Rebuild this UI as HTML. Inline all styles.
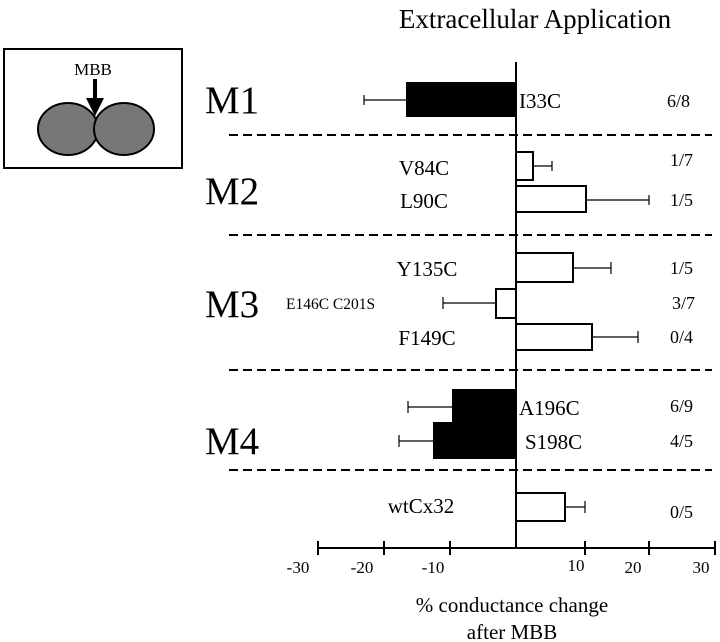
<!DOCTYPE html>
<html><head><meta charset="utf-8"><style>
html,body{margin:0;padding:0;background:#fff;}
svg{display:block;font-family:"Liberation Serif",serif;}
</style></head><body>
<svg width="720" height="642" viewBox="0 0 720 642" xmlns="http://www.w3.org/2000/svg">
<text x="535" y="28" font-size="27" text-anchor="middle">Extracellular Application</text>
<rect x="4" y="49" width="178" height="119" fill="#fff" stroke="#000" stroke-width="2"/>
<ellipse cx="68" cy="129" rx="30" ry="26" fill="#777" stroke="#000" stroke-width="2"/>
<ellipse cx="124" cy="129" rx="30" ry="26" fill="#777" stroke="#000" stroke-width="2"/>
<text x="93" y="75" font-size="17" text-anchor="middle">MBB</text>
<line x1="95" y1="79" x2="95" y2="100" stroke="#000" stroke-width="4"/>
<polygon points="86,98 104,98 95,116" fill="#000"/>
<g font-size="39">
<text x="205" y="113">M1</text>
<text x="205" y="204">M2</text>
<text x="205" y="317">M3</text>
<text x="205" y="454">M4</text>
</g>
<g stroke="#000" stroke-width="2" stroke-dasharray="9,5">
<line x1="229" y1="135" x2="712" y2="135"/>
<line x1="229" y1="235" x2="712" y2="235"/>
<line x1="229" y1="370" x2="712" y2="370"/>
<line x1="229" y1="470" x2="712" y2="470"/>
</g>
<g stroke="#000" stroke-width="1.2">
<line x1="364" y1="100" x2="407" y2="100"/><line x1="364" y1="95" x2="364" y2="105"/>
<line x1="533" y1="166" x2="552" y2="166"/><line x1="552" y1="161" x2="552" y2="171"/>
<line x1="586" y1="200" x2="649" y2="200"/><line x1="649" y1="195" x2="649" y2="205"/>
<line x1="573" y1="268" x2="611" y2="268"/><line x1="611" y1="262" x2="611" y2="274"/>
<line x1="443" y1="303" x2="496" y2="303"/><line x1="443" y1="297" x2="443" y2="309"/>
<line x1="592" y1="337" x2="638" y2="337"/><line x1="638" y1="331" x2="638" y2="343"/>
<line x1="408" y1="407" x2="453" y2="407"/><line x1="408" y1="401" x2="408" y2="413"/>
<line x1="399" y1="441" x2="434" y2="441"/><line x1="399" y1="435" x2="399" y2="447"/>
<line x1="565" y1="507" x2="585" y2="507"/><line x1="585" y1="501" x2="585" y2="513"/>
</g>
<g stroke="#000" stroke-width="2">
<rect x="407" y="83" width="109" height="33" fill="#000"/>
<rect x="516" y="152" width="17" height="28" fill="#fff"/>
<rect x="516" y="186" width="70" height="26" fill="#fff"/>
<rect x="516" y="253" width="57" height="29" fill="#fff"/>
<rect x="496" y="289" width="20" height="29" fill="#fff"/>
<rect x="516" y="324" width="76" height="26" fill="#fff"/>
<rect x="453" y="390" width="63" height="33" fill="#000"/>
<rect x="434" y="423" width="82" height="35" fill="#000"/>
<rect x="516" y="493" width="49" height="28" fill="#fff"/>
</g>
<line x1="516" y1="62" x2="516" y2="549" stroke="#000" stroke-width="2"/>
<g font-size="21">
<text x="519" y="108">I33C</text>
<text x="424" y="175" text-anchor="middle">V84C</text>
<text x="424" y="208" text-anchor="middle">L90C</text>
<text x="427" y="276" text-anchor="middle">Y135C</text>
<text x="427" y="345" text-anchor="middle">F149C</text>
<text x="519" y="415">A196C</text>
<text x="525" y="449">S198C</text>
<text x="421" y="513" text-anchor="middle">wtCx32</text>
</g>
<text x="286" y="309" font-size="15.5">E146C C201S</text>
<g font-size="18">
<text x="667" y="107">6/8</text>
<text x="670" y="166">1/7</text>
<text x="670" y="206">1/5</text>
<text x="670" y="274">1/5</text>
<text x="672" y="309">3/7</text>
<text x="670" y="343">0/4</text>
<text x="670" y="412">6/9</text>
<text x="670" y="447">4/5</text>
<text x="670" y="518">0/5</text>
</g>
<g stroke="#000" stroke-width="2">
<line x1="318" y1="548" x2="715" y2="548"/>
<line x1="318" y1="541" x2="318" y2="555"/>
<line x1="384" y1="541" x2="384" y2="555"/>
<line x1="450" y1="541" x2="450" y2="555"/>
<line x1="585" y1="541" x2="585" y2="555"/>
<line x1="649" y1="541" x2="649" y2="555"/>
<line x1="715" y1="541" x2="715" y2="555"/>
</g>
<g font-size="17" text-anchor="middle">
<text x="298" y="573">-30</text>
<text x="362" y="573">-20</text>
<text x="433" y="573">-10</text>
<text x="576" y="571">10</text>
<text x="633" y="573">20</text>
<text x="701" y="573">30</text>
</g>
<g font-size="21" text-anchor="middle">
<text x="512" y="612">% conductance change</text>
<text x="512" y="639">after MBB</text>
</g>
</svg>
</body></html>
